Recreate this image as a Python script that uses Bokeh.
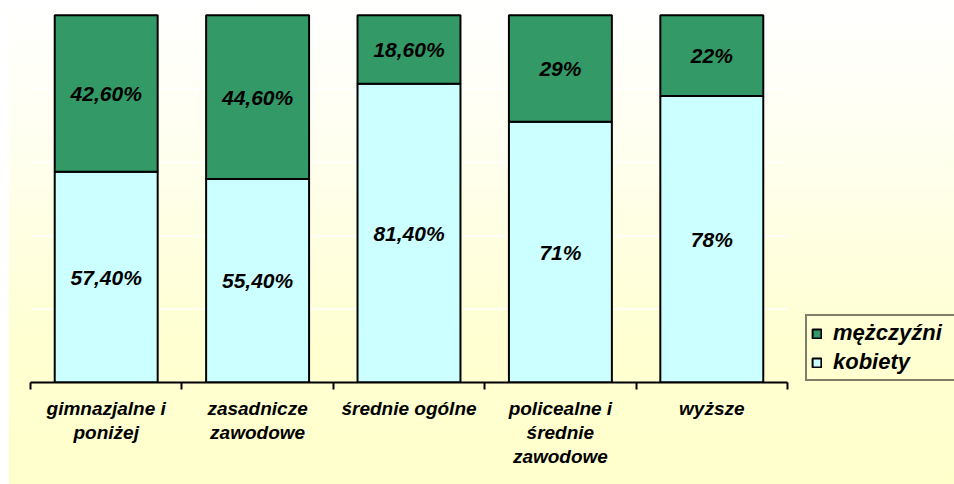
from bokeh.plotting import figure
from bokeh.models import (FixedTicker, Legend, LegendItem, ColumnDataSource,
                          InlineStyleSheet)
from bokeh.core.properties import value
from bokeh.embed import file_html
from bokeh.resources import INLINE

# ---- data ----
categories = ["gimnazjalne i\nponiżej", "zasadnicze\nzawodowe", "średnie ogólne",
              "policealne i\nśrednie\nzawodowe", "wyższe"]
kobiety = [57.4, 55.4, 81.4, 71, 78]
mezczyzni = [42.6, 44.6, 18.6, 29, 22]
series_labels = ["kobiety", "mężczyźni"]
series_colors = ["#CCFFFF", "#339966"]
grid_ticks = [20, 40, 60, 80]


def fmt(v):
    if float(v).is_integer():
        return f"{int(v)}%"
    return f"{v:.2f}".replace(".", ",") + "%"


n = len(categories)
xs = list(range(n))
source = ColumnDataSource(dict(
    x=xs,
    kobiety=kobiety,
    mezczyzni=mezczyzni,
    k_mid=[k / 2 for k in kobiety],
    m_mid=[k + m / 2 for k, m in zip(kobiety, mezczyzni)],
    k_lab=[fmt(v) for v in kobiety],
    m_lab=[fmt(v) for v in mezczyzni],
))

FONT = "Liberation Sans"
W, H = 954, 484
LEFT, RIGHT_EDGE_PLOT = 30, 787          # screen px of the category axis
px_per_cat = (RIGHT_EDGE_PLOT - LEFT) / n
x_end = -0.5 + (W - LEFT) / px_per_cat

p = figure(width=W, height=H, x_range=(-0.5, x_end), y_range=(0, 100.5),
           output_backend="svg", toolbar_location=None, y_axis_location=None,
           min_border_left=LEFT, min_border_right=0, min_border_top=13, min_border_bottom=102)
p.background_fill_color = None
p.border_fill_color = None
p.outline_line_color = None
for g in p.grid:
    g.visible = False
p.stylesheets = [InlineStyleSheet(css=(
    ":host { background-color: #ffffff;"
    " background-image: linear-gradient(to bottom, #ffffff 0%, #fffff0 30%, #ffffd2 70%, #ffffcc 100%);"
    " background-repeat: no-repeat; background-position: 9px 0;"
    " background-size: calc(100% - 9px) 100%; }"))]

# white horizontal gridlines across the category area only
p.segment(x0=-0.5, x1=n - 0.5, y0=grid_ticks, y1=grid_ticks, line_color="white", line_width=1.5)

renderers = p.vbar_stack(["kobiety", "mezczyzni"], x="x", width=0.68, source=source,
                         fill_color=series_colors, line_color="black", line_width=2)

for ycol, tcol in (("k_mid", "k_lab"), ("m_mid", "m_lab")):
    p.text(x="x", y=ycol, text=tcol, source=source, text_font=value(FONT),
           text_font_style="bold italic", text_font_size="21px", text_align="center",
           text_baseline="middle", text_color="black")

ax = p.xaxis[0]
ax.bounds = (-0.5, n - 0.5)
ax.ticker = FixedTicker(ticks=xs, minor_ticks=[i - 0.5 for i in range(n + 1)])
ax.major_label_overrides = {i: c for i, c in enumerate(categories)}
ax.axis_line_color = "black"
ax.axis_line_width = 2
ax.major_tick_out = 0
ax.major_tick_in = 0
ax.minor_tick_out = 7
ax.minor_tick_in = 0
ax.minor_tick_line_color = "black"
ax.minor_tick_line_width = 2
ax.major_label_standoff = 8
ax.major_label_text_font = FONT
ax.major_label_text_font_style = "bold italic"
ax.major_label_text_font_size = "19px"
ax.major_label_text_color = "black"
ax.major_label_text_line_height = 1.15

legend = Legend(items=[LegendItem(label=series_labels[1], renderers=[renderers[1]]),
                       LegendItem(label=series_labels[0], renderers=[renderers[0]])],
                location=(775, 1), border_line_color="black", border_line_width=2,
                background_fill_alpha=0, label_text_font=FONT,
                label_text_font_style="bold italic", label_text_font_size="22px",
                label_text_color="black", glyph_width=11, glyph_height=11,
                label_standoff=11, padding=4, spacing=3, label_height=25,
                label_width=118, margin=0)
p.add_layout(legend)

open("out.html", "w").write(file_html(p, INLINE))
